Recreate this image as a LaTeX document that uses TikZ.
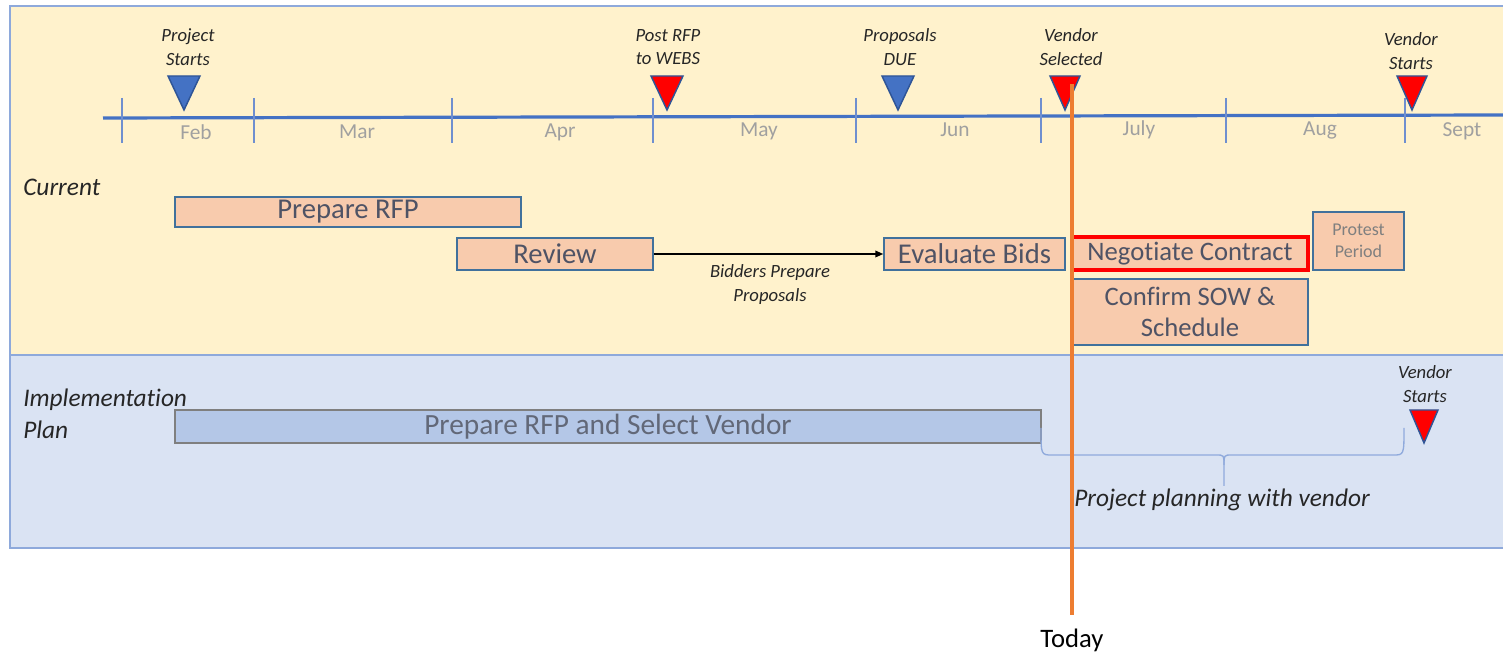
\documentclass[tikz,border=0pt]{standalone}
\usepackage{fontspec}
\setmainfont{Carlito}[RawFeature={-liga;-clig;-calt}]
\usetikzlibrary{arrows.meta}

\definecolor{curfill}{HTML}{FFF2CC}
\definecolor{planfill}{HTML}{DAE3F3}
\definecolor{panelline}{HTML}{8EA9DB}
\definecolor{axisblue}{HTML}{4472C4}
\definecolor{tickblue}{HTML}{6F8FCF}
\definecolor{monthgray}{HTML}{A0A0A0}
\definecolor{msblue}{HTML}{4472C4}
\definecolor{msred}{HTML}{FF0000}
\definecolor{msline}{HTML}{2F5597}
\definecolor{peach}{HTML}{F8CBAD}
\definecolor{boxblue}{HTML}{41719C}
\definecolor{tasktext}{HTML}{4F5365}
\definecolor{softtext}{HTML}{7F7F7F}
\definecolor{labeltext}{HTML}{262626}
\definecolor{planbar}{HTML}{B4C7E7}
\definecolor{planbarline}{HTML}{7F7F7F}
\definecolor{planbartext}{HTML}{626878}
\definecolor{bracecol}{HTML}{8FAADC}
\definecolor{todayorange}{HTML}{ED7D31}

\newcommand\fsz[2]{\fontsize{#1}{#2}\selectfont}
% milestone marker: x, top y, bottom y, half width, fill colour
\newcommand\mstone[5]{%
  \draw[line width=1.1pt, draw=msline, fill=#5, line join=miter]
    ({#1-#4},#2) -- ({#1+#4},#2) -- (#1,#3) -- cycle;}

\begin{document}
\begin{tikzpicture}[x=0.75pt, y=-0.75pt,
  task/.style={draw=boxblue, fill=peach, line width=1.1pt, text=tasktext,
    font=\fsz{20}{23}, align=center, inner sep=0pt},
  bigtask/.style={task, font=\fsz{21.5}{24}},
  mslabel/.style={font=\itshape\fsz{14}{17.5}, text=labeltext, align=center},
  rowlabel/.style={font=\itshape\fsz{19}{24}, text=labeltext, align=left, anchor=west, inner sep=0pt},
  month/.style={font=\fsz{16}{18}, text=monthgray},
  tickline/.style={draw=tickblue, line width=1.1pt}]

\useasboundingbox (0,0) rectangle (1503,655);
\clip (0,0) rectangle (1503,655);

% panels
\draw[fill=curfill, draw=panelline, line width=1.6pt] (10,6) rectangle (1512,355);
\draw[fill=planfill, draw=panelline, line width=1.6pt] (10,355) rectangle (1512,548);

% time axis
\draw[draw=axisblue, line width=2.4pt] (103,118) -- (1503,115);
\foreach \tx in {122,254,452,653,856,1041,1226,1405}
  \draw[tickline] (\tx,98) -- (\tx,143);
\node[month] (mFeb)  at (196,132)  {Feb};
\node[month] (mMar)  at (357,132)  {Mar};
\node[month] (mApr)  at (560,132)  {Apr};
\node[month] (mMay)  at (759,131)  {May};
\node[month] (mJun)  at (955,130)  {Jun};
\node[month] (mJul)  at (1139,130) {July};
\node[month] (mAug)  at (1320,130) {Aug};
\node[month] (mSep)  at (1462,131) {Sept};

% milestones
\mstone{184}{76}{110}{16}{msblue}
\mstone{667}{76}{110}{16}{msred}
\mstone{898}{76}{110}{16}{msblue}
\mstone{1065}{76}{110}{15}{msred}
\mstone{1412}{76}{110}{15}{msred}
\node[mslabel] (lStart)  at (188,47)  {Project\\Starts};
\node[mslabel] (lPost)   at (668,47)  {Post RFP\\to WEBS};
\node[mslabel] (lDue)    at (900,47)  {Proposals\\DUE};
\node[mslabel] (lSel)    at (1071,47) {Vendor\\Selected};
\node[mslabel] (lVstart) at (1411,51) {Vendor\\Starts};

% current schedule
\node[rowlabel] (current) at (23,187) {Current};
\node[bigtask, minimum width=259.5pt, minimum height=22.5pt] (prfp)    at (348,212)    {Prepare RFP};
\node[bigtask, minimum width=147pt,   minimum height=24pt]   (review)  at (555,254)    {Review};
\node[bigtask, minimum width=135.75pt,minimum height=24pt]   (evalb)   at (974.5,254)  {Evaluate Bids};
\node[task, minimum width=68.25pt, minimum height=43.5pt, font=\fsz{13.5}{16.5}, text=softtext]
  (protest) at (1358.5,241) {Protest\\Period};
\node[task, minimum width=177pt,   minimum height=49.5pt] (confirm) at (1190,312)   {Confirm SOW \&\\Schedule};
\node[task, draw=msred, line width=2.4pt, minimum width=177pt, minimum height=24.75pt]
  (negot) at (1190,253.5) {Negot\kern0pt iate Contract};
\draw[line width=1.1pt, -{Triangle[length=6pt,width=5pt]}] (review.east) -- (evalb.west);
\node[mslabel, font=\itshape\fsz{14}{18}] (bidders) at (770,285) {Bidders Prepare\\Proposals};

% implementation plan
\node[rowlabel] (impl) at (23,414) {Implementat\kern0pt ion\\Plan};
\node[draw=planbarline, fill=planbar, line width=1.5pt, text=planbartext, font=\fsz{22}{24},
  inner sep=0pt, minimum width=649.5pt, minimum height=24.75pt] (plan) at (608,426.5)
  {Prepare RFP and Select Vendor};
\mstone{1424}{410}{443}{14}{msred}
\node[mslabel] (lVstart2) at (1425,384) {Vendor\\Starts};

% brace under the planning period
\coordinate (bL) at (1041,428);
\coordinate (bR) at (1404,428);
\coordinate (bTip) at (1224,486);
\draw[bracecol, line width=1pt]
  (bL) .. controls (1041,455) and (1041,455) .. (1052,455) -- (1216,455)
  .. controls (1224,455) .. (1224,465) -- (bTip);
\draw[bracecol, line width=1pt]
  (bR) .. controls (1404,455) and (1404,455) .. (1393,455) -- (1232,455)
  .. controls (1224,455) .. (1224,465);
\node[font=\itshape\fsz{19}{22}, text=labeltext] (planning) at (1222,500) {Project planning with vendor};

% today marker
\coordinate (todaytop) at (1072,84);
\coordinate (todaybot) at (1072,615);
\node[font=\fsz{20}{22}, text=black] (today) at (1072,640) {Today};
\draw[todayorange, line width=2.6pt] (todaytop) -- (todaybot);
\end{tikzpicture}
\end{document}
